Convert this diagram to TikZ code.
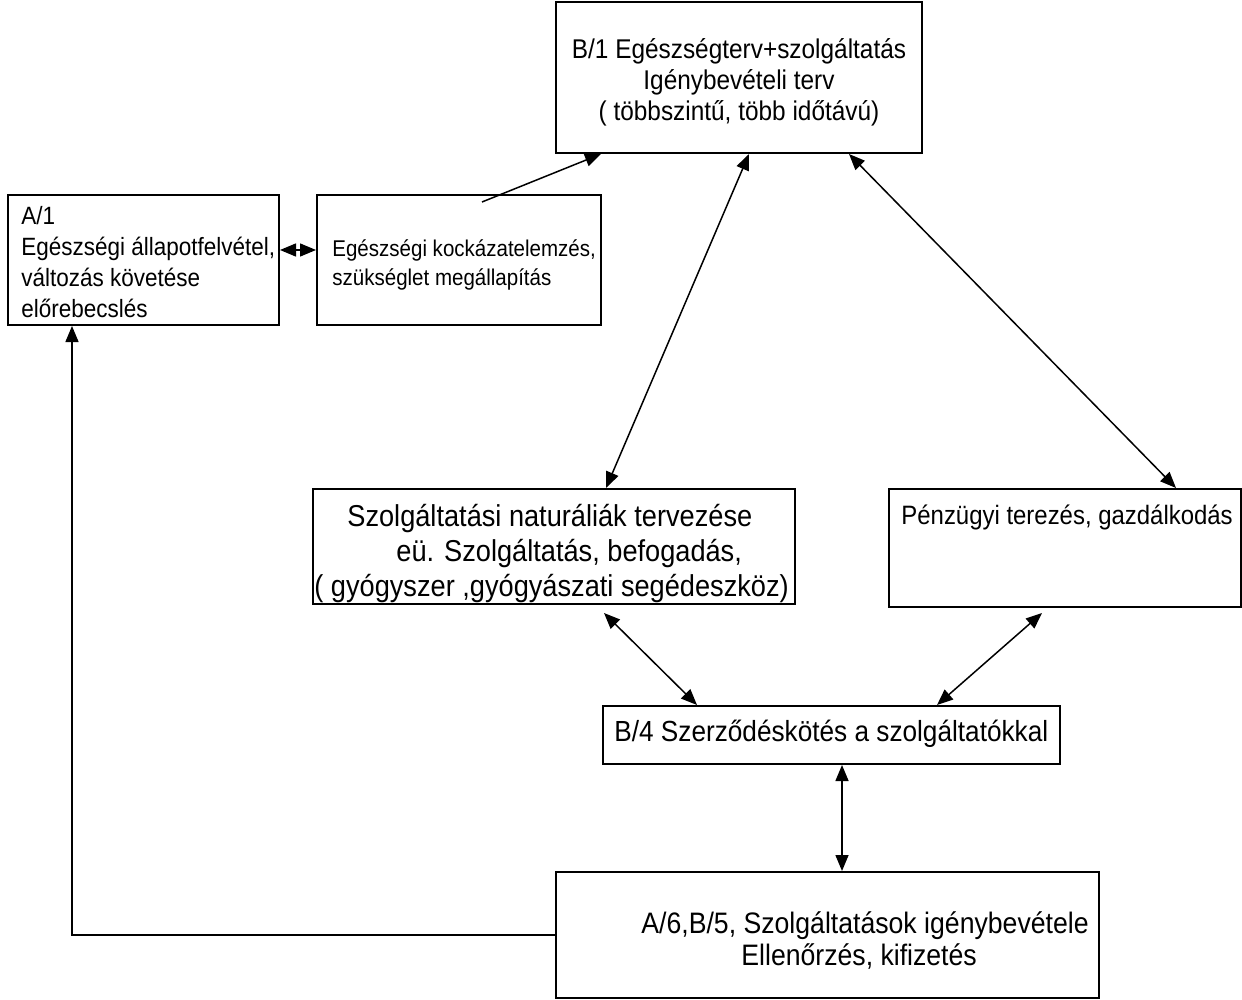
\documentclass[tikz,border=0pt]{standalone}
\usepackage{fontspec}
\setmainfont[FakeStretch=0.9]{Liberation Sans}
\usetikzlibrary{positioning, arrows.meta}
\newcommand{\fsz}[2]{\fontsize{#1}{#2}\selectfont}

\begin{document}
\begin{tikzpicture}[x=0.5pt, y=-0.5pt,
		box/.style={draw, line width=1pt, inner sep=0pt},
		txt/.style={inner sep=0pt, align=left},
		arr/.style={line width=0.75pt, >={Triangle[length=8pt, width=6.5pt]}}]
		\useasboundingbox (0,0) rectangle (1242,1000);
		% boxes
		\node[box, minimum width=183pt, minimum height=75.5pt] (b1) at (739,77.5) {};
		\node[box, minimum width=135.5pt, minimum height=65pt] (a1) at (143.5,260) {};
		\node[box, minimum width=142pt, minimum height=65pt] (risk) at (459,260) {};
		\node[box, minimum width=241pt, minimum height=57.5pt] (szolg) at (554,546.5) {};
		\node[box, minimum width=176pt, minimum height=59pt] (penz) at (1065,548) {};
		\node[box, minimum width=228.5pt, minimum height=29pt] (b4) at (831.5,735) {};
		\node[box, minimum width=271.5pt, minimum height=63pt] (a6) at (827.5,935) {};
		% texts
		\node[txt, align=center, font=\fsz{13.55pt}{15.5pt}, below=18.8pt of b1.north] (b1t)
			{B/1 Egészségterv+szolgáltatás\\Igénybevételi terv\\( többszintű, több időtávú)};
		\node[txt, font=\fsz{12.5pt}{15.5pt}, below right=6pt and 7pt of a1.north west] (a1t)
			{A/1\\Egészségi állapotfelvétel,\\változás követése\\előrebecslés};
		\node[txt, font=\fsz{11.4pt}{14.5pt}, below right=22.7pt and 8pt of risk.north west] (riskt)
			{Egészségi kockázatelemzés,\\szükséglet megállapítás};
		\node[txt, font=\fsz{15.1pt}{17.5pt}, below right=7.8pt and 1pt of szolg.north west] (szolgt)
			{\hspace*{16.5pt}Szolgáltatási naturáliák tervezése\\\hspace*{41pt}eü. Szolgáltatás, befogadás,\\( gyógyszer ,gyógyászati segédeszköz)};
		\node[txt, font=\fsz{13.3pt}{15pt}, below right=8.2pt and 6.5pt of penz.north west] (penzt)
			{Pénzügyi terezés, gazdálkodás};
		\node[txt, font=\fsz{14.55pt}{16pt}, below right=7.4pt and 6pt of b4.north west] (b4t)
			{B/4 Szerződéskötés a szolgáltatókkal};
		\node[txt, font=\fsz{14.8pt}{16pt}, below right=20pt and 43pt of a6.north west] (a6t)
			{A/6,B/5, Szolgáltatások igénybevétele\\\hspace*{50pt}Ellenőrzés, kifizetés};
		% connectors
		\coordinate (riskout) at (482,202);
		\draw[arr, <->] ([yshift=5pt]a1.east) -- ([yshift=5pt]risk.west);
		\draw[arr, ->] (riskout) -- ([xshift=23pt]b1.south west);
		\draw[arr, <->] ([xshift=97pt]b1.south west) -- ([xshift=147pt]szolg.north west);
		\draw[arr, <->] ([xshift=147pt]b1.south west) -- ([xshift=144pt]penz.north west);
		\draw[arr, <->] ([xshift=146pt, yshift=-4pt]szolg.south west) -- ([xshift=47.5pt]b4.north west);
		\draw[arr, <->] ([xshift=77pt, yshift=-2.5pt]penz.south west) -- ([xshift=167.5pt]b4.north west);
		\draw[arr, <->] ([xshift=120pt]b4.south west) -- ([xshift=143.5pt]a6.north west);
		\draw[arr, ->] (a6.west) -| ([xshift=32.5pt]a1.south west);
	\end{tikzpicture}
\end{document}
